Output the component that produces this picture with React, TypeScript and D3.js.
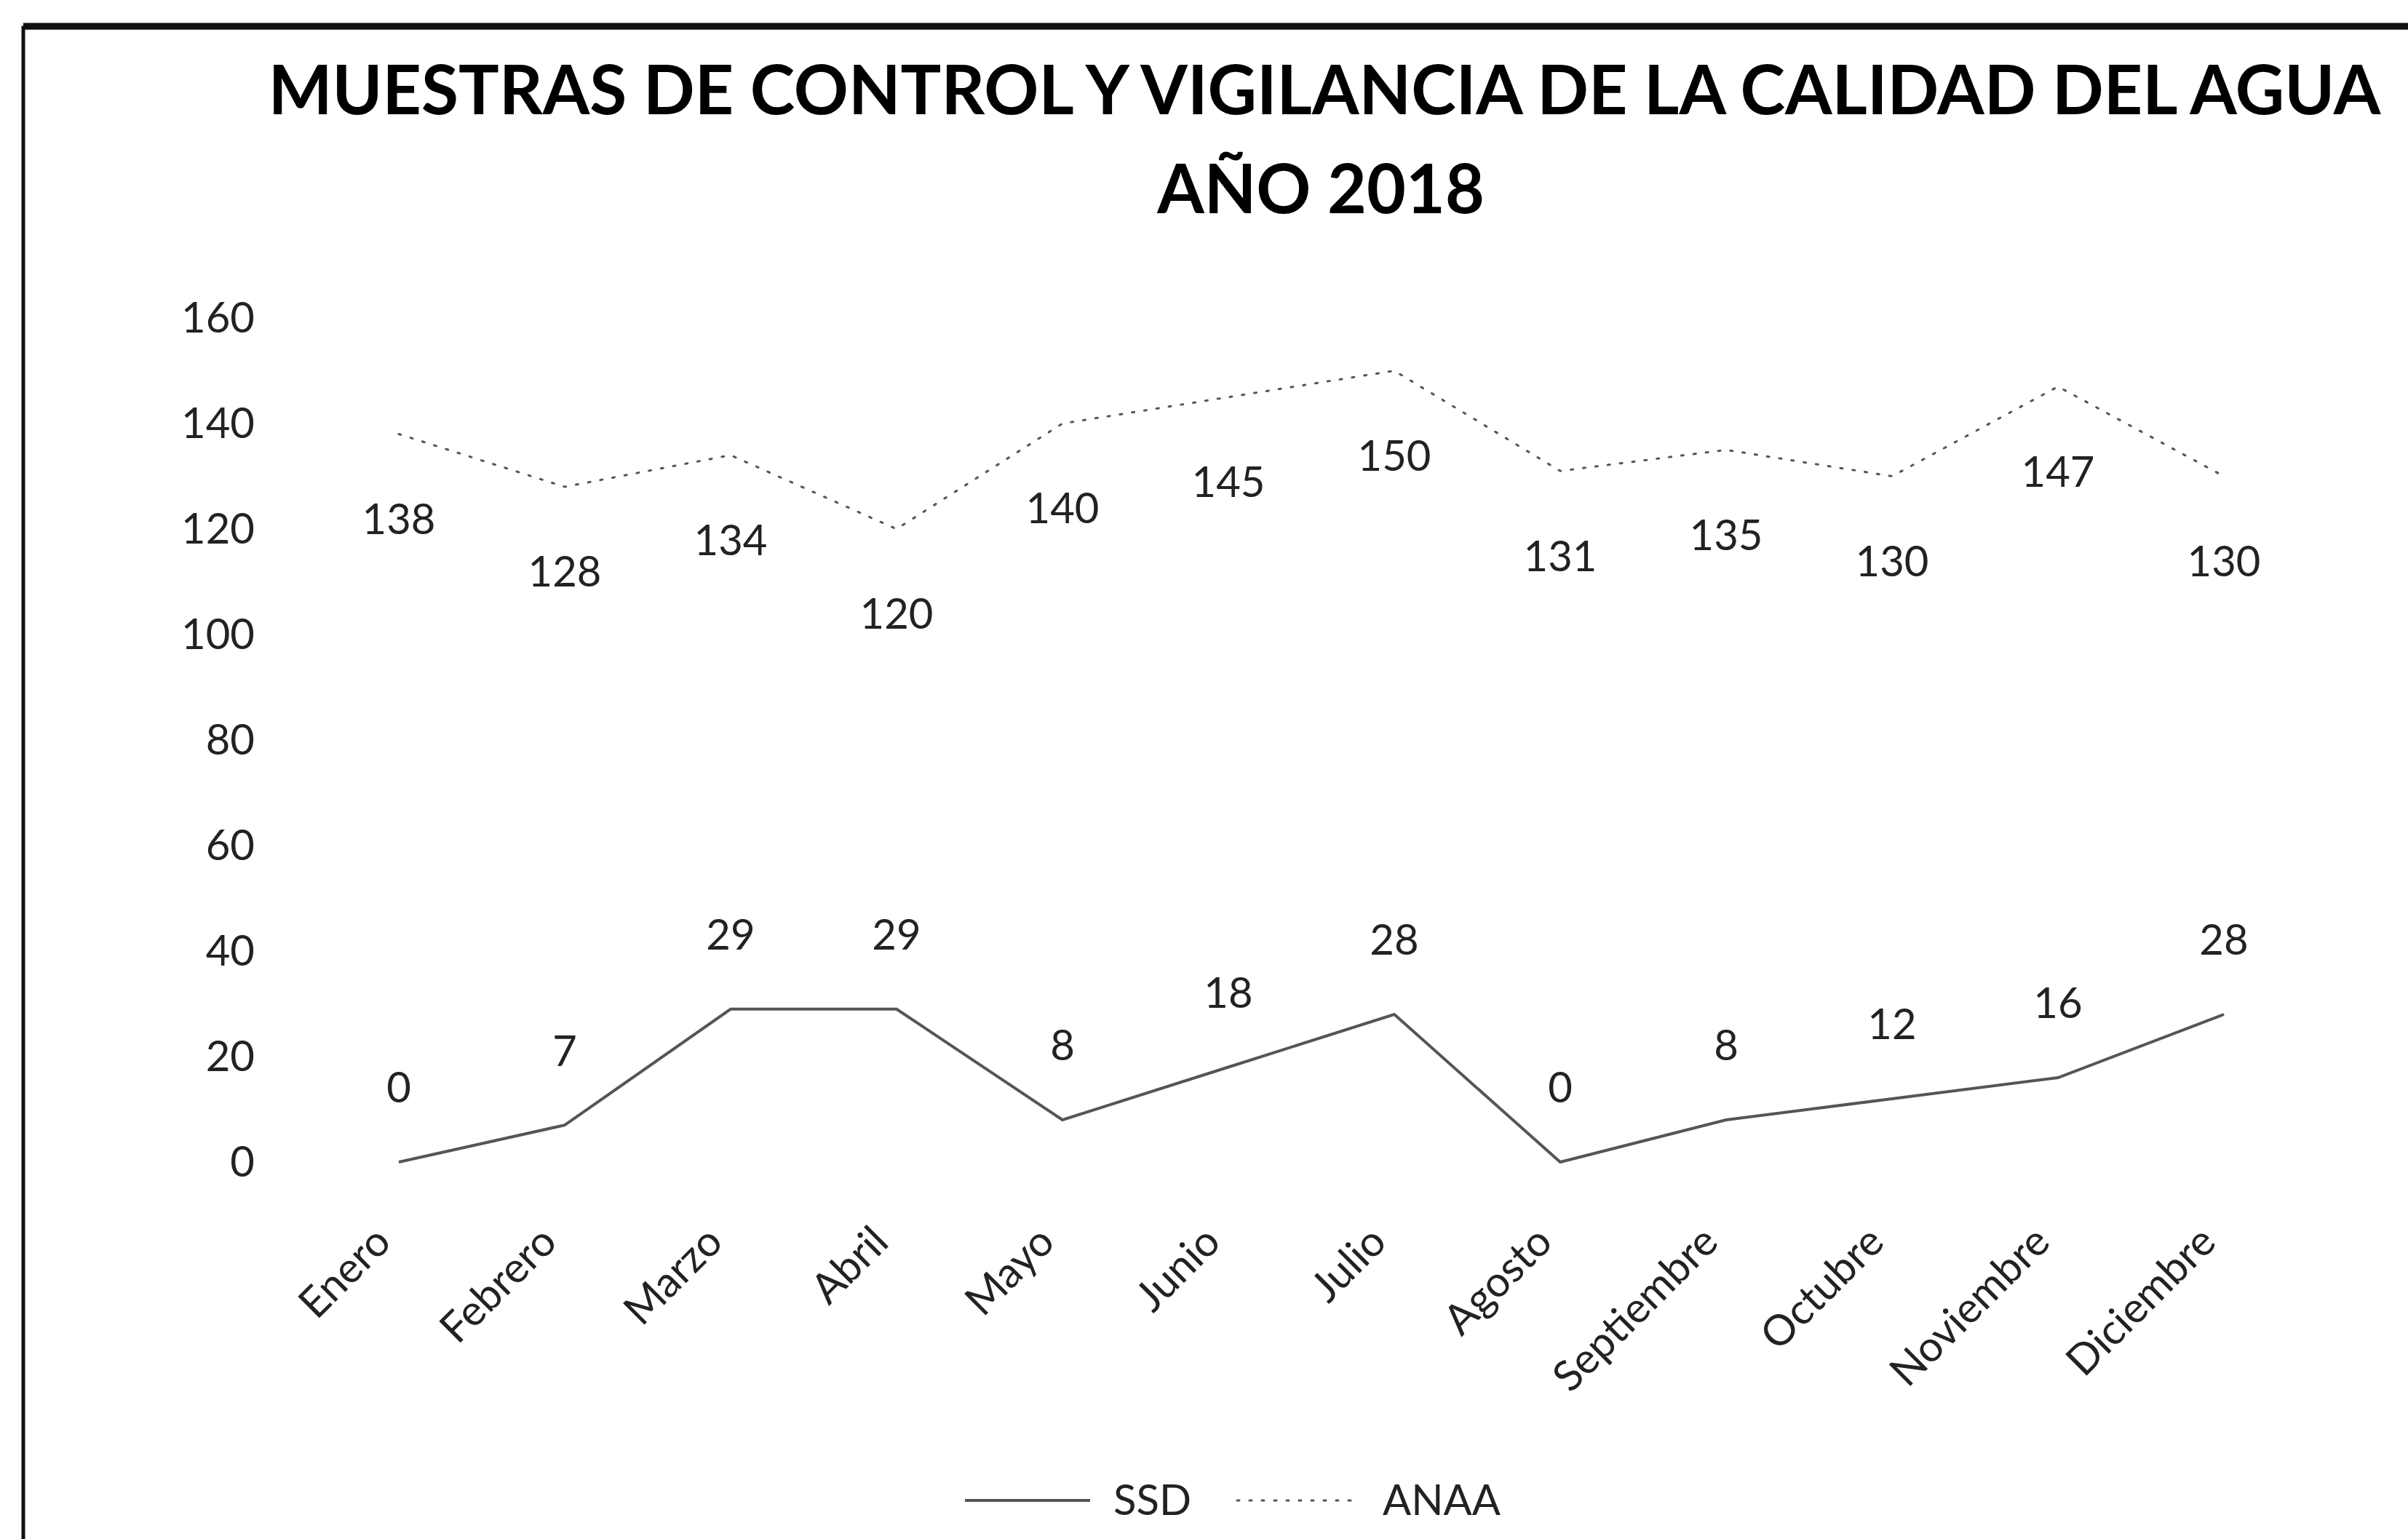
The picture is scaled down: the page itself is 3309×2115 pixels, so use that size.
import React from "react";
import * as d3 from "d3";

const months = ["Enero", "Febrero", "Marzo", "Abril", "Mayo", "Junio", "Julio", "Agosto", "Septiembre", "Octubre", "Noviembre", "Diciembre"];
const ssd = [0, 7, 29, 29, 8, 18, 28, 0, 8, 12, 16, 28];
const anaa = [138, 128, 134, 120, 140, 145, 150, 131, 135, 130, 147, 130];
const yTicks = [0, 20, 40, 60, 80, 100, 120, 140, 160];
const seriesNames = ["SSD", "ANAA"];

const W = 3309;
const H = 2115;
const FONT = "Lato, 'Open Sans', 'DejaVu Sans', sans-serif";

export default function App() {
  const x = d3.scalePoint<string>().domain(months).range([548, 3056]);
  const y = d3.scaleLinear().domain([0, 160]).range([1597, 437]);
  const line = d3
    .line<number>()
    .x((_, i) => x(months[i]) as number)
    .y((d) => y(d));

  return (
    <svg width={W} height={H} style={{ position: "absolute", left: 0, top: 0, background: "#fff" }}>
      <rect x={0} y={0} width={W} height={H} fill="#fff" />
      <rect x={32} y={38} width={W + 40} height={H + 40} fill="none" stroke="#111" strokeWidth={5} />
      <line x1={32} y1={36} x2={W} y2={36} stroke="#111" strokeWidth={9} />

      <text x={1820} y={157} textAnchor="middle" fontFamily={FONT} fontWeight={700} fontSize={93} fill="#000">
        MUESTRAS DE CONTROL Y VIGILANCIA  DE LA CALIDAD DEL AGUA
      </text>
      <text x={1815} y={293} textAnchor="middle" fontFamily={FONT} fontWeight={700} fontSize={93} fill="#000">
        AÑO 2018
      </text>

      {yTicks.map((t) => (
        <text key={t} x={350} y={y(t)} dy="0.35em" textAnchor="end" fontFamily={FONT} fontSize={58} fill="#222">
          {t}
        </text>
      ))}

      <path d={line(anaa) || ""} fill="none" stroke="#555" strokeWidth={3} strokeDasharray="3 14" strokeLinecap="round" />
      <path d={line(ssd) || ""} fill="none" stroke="#555" strokeWidth={4} />

      {anaa.map((v, i) => (
        <text key={"a" + i} x={x(months[i])} y={y(v) + 117} dy="0.35em" textAnchor="middle" fontFamily={FONT} fontSize={58} fill="#222">
          {v}
        </text>
      ))}
      {ssd.map((v, i) => (
        <text key={"s" + i} x={x(months[i])} y={y(v) - 102} dy="0.35em" textAnchor="middle" fontFamily={FONT} fontSize={58} fill="#222">
          {v}
        </text>
      ))}

      {months.map((m) => (
        <text key={m} transform={`translate(${(x(m) as number) - 8},1710) rotate(-45)`} textAnchor="end" fontFamily={FONT} fontSize={58} fill="#222">
          {m}
        </text>
      ))}

      <line x1={1326} y1={2062} x2={1498} y2={2062} stroke="#555" strokeWidth={4} />
      <text x={1530} y={2062} dy="0.35em" fontFamily={FONT} fontSize={58} fill="#222">{seriesNames[0]}</text>
      <line x1={1700} y1={2062} x2={1866} y2={2062} stroke="#555" strokeWidth={3} strokeDasharray="3 14" strokeLinecap="round" />
      <text x={1900} y={2062} dy="0.35em" fontFamily={FONT} fontSize={58} fill="#222">{seriesNames[1]}</text>
    </svg>
  );
}
